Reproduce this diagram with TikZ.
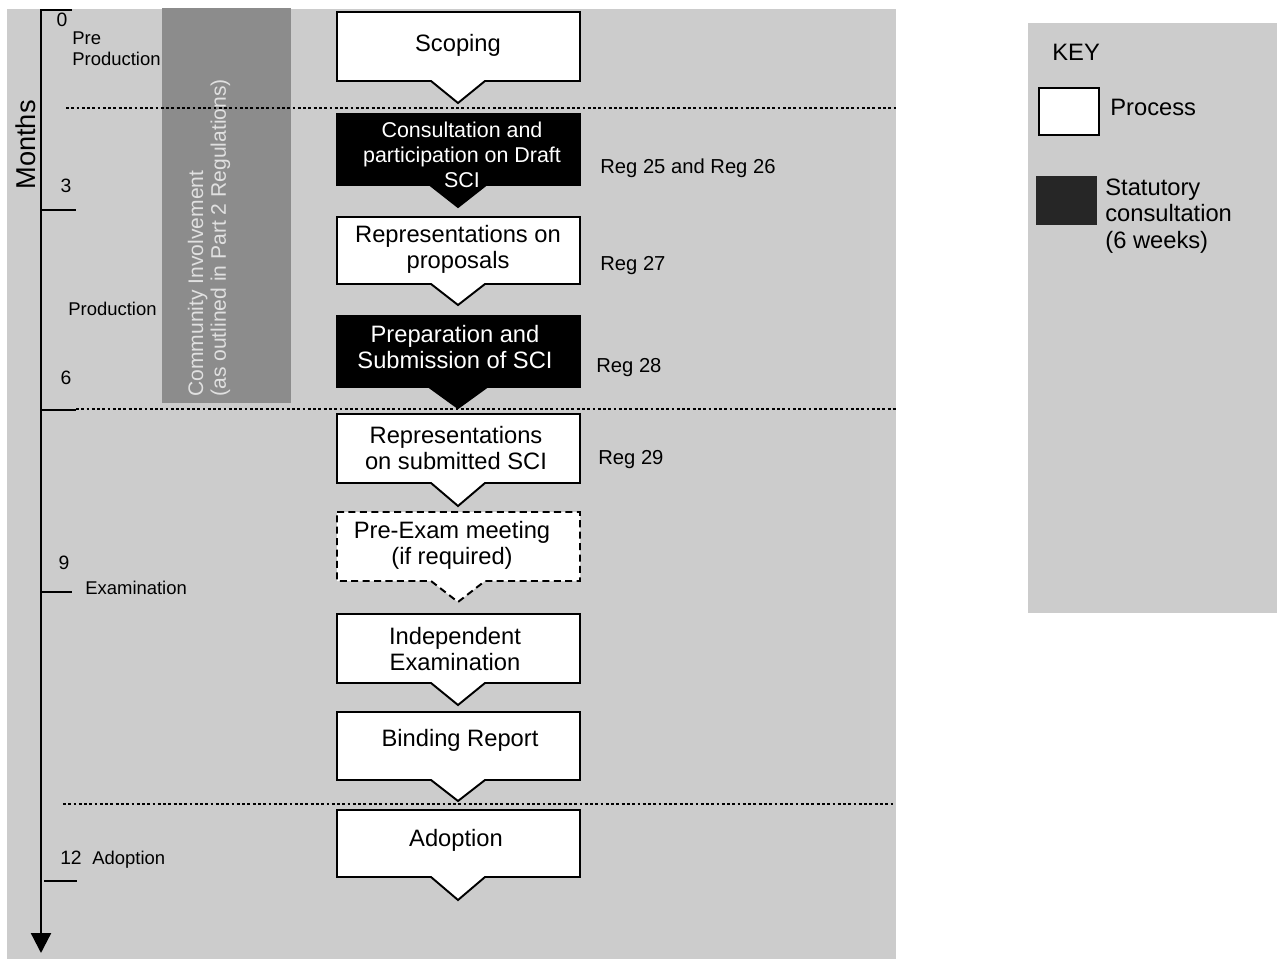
\documentclass[tikz,border=0pt]{standalone}
\usepackage{fontspec}
\setmainfont{Liberation Sans}
\usetikzlibrary{arrows.meta}

\tikzset{
  panel/.style={fill=black!20, draw=none},
  procbox/.style={draw=black, fill=white, line width=1.1pt},
  statbox/.style={draw=black, fill=black, line width=1.1pt},
  optbox/.style={procbox, dash pattern=on 4pt off 2.5pt},
  boxtext/.style={align=center, inner sep=0pt, font=\fontsize{13.5}{14.8}\selectfont},
  stattext/.style={boxtext, text=white},
  reglabel/.style={anchor=west, inner sep=0pt, font=\fontsize{11.5}{13}\selectfont},
  phaselabel/.style={anchor=west, inner sep=0pt, align=left, font=\fontsize{10.5}{12}\selectfont},
  monthnum/.style={inner sep=0pt, font=\fontsize{11}{13}\selectfont},
  phaseline/.style={line width=1.6pt, dash pattern=on 1.6pt off 1.4pt},
  keytext/.style={anchor=west, inner sep=0pt, align=left, font=\fontsize{13.5}{15}\selectfont}
}

\begin{document}
\begin{tikzpicture}[x=0.02cm, y=-0.02cm]
    \useasboundingbox (0,0) rectangle (1277,959);

    % Background panels
    \fill[panel] (7,9) rectangle (896,959);
    \fill[panel] (1028,23) rectangle (1277,613);

    % Community involvement bar
    \fill[black!45] (162,8) rectangle (291,403);
    \node[rotate=90, anchor=west, align=left, inner sep=0pt, text=black!12,
          font=\fontsize{12}{13}\selectfont] (community) at (209,397)
          {Community Involvement\\(as outlined in Part 2 Regulations)};

    % Time axis
    \coordinate (axistop) at (41,10);
    \coordinate (axisend) at (41,953);
    \draw[line width=1.3pt, -{Triangle[length=4mm, width=4mm]}]
        (72,10) -- (axistop) -- (axisend);
    \draw[line width=1.2pt] (41,210) -- (76,210);
    \draw[line width=1.2pt] (41,410) -- (76,410);
    \draw[line width=1.2pt] (41,592) -- (72,592);
    \draw[line width=1.2pt] (44,881) -- (77,881);
    \node[rotate=90, inner sep=0pt, font=\fontsize{15.5}{17}\selectfont] (months) at (26,145) {Months};

    % Month numbers and phases
    \node[monthnum] (m0) at (62,20) {0};
    \node[monthnum] (m3) at (66,186) {3};
    \node[monthnum] (m6) at (66,378) {6};
    \node[monthnum] (m9) at (64,563) {9};
    \node[monthnum] (m12) at (71,858) {12};
    \node[phaselabel] (preprod) at (72,49) {Pre\\Production};
    \node[phaselabel] (prod) at (68,309) {Production};
    \node[phaselabel] (exam) at (85,588) {Examination};
    \node[phaselabel] (adopt) at (92,860) {Adoption};

    % Phase boundaries
    \draw[phaseline] (66,108) -- (896,108);
    \draw[phaseline] (76,409) -- (896,409);
    \draw[phaseline] (63,804) -- (893,804);

    % Process steps
    \draw[procbox] (337,12) -- (580,12) -- (580,81) -- (485,81) -- (458,103) -- (431,81) -- (337,81) -- cycle;
    \node[boxtext] (scoping) at (458,45) {Scoping};

    \draw[statbox] (337,114) -- (580,114) -- (580,185) -- (486,185) -- (458,207) -- (430,185) -- (337,185) -- cycle;
    \node[stattext, font=\fontsize{12.2}{14.2}\selectfont] (consult) at (462,155) {Consultation and\\participation on Draft\\SCI};

    \draw[procbox] (337,217) -- (580,217) -- (580,284) -- (485,284) -- (458,305) -- (431,284) -- (337,284) -- cycle;
    \node[boxtext] (repprop) at (458,249) {Representations on\\proposals};

    \draw[statbox] (337,316) -- (580,316) -- (580,387) -- (487,387) -- (458,408) -- (429,387) -- (337,387) -- cycle;
    \node[stattext] (prepare) at (455,347) {Preparation and\\Submission of SCI};

    \draw[procbox] (337,414) -- (580,414) -- (580,483) -- (485,483) -- (458,506) -- (431,483) -- (337,483) -- cycle;
    \node[boxtext] (repsub) at (456,448) {Representations\\on submitted SCI};

    \draw[optbox] (337,512) -- (580,512) -- (580,581) -- (485,581) -- (458,602) -- (431,581) -- (337,581) -- cycle;
    \node[boxtext] (preexam) at (452,545) {Pre-Exam meeting\\(if required)};

    \draw[procbox] (337,614) -- (580,614) -- (580,683) -- (485,683) -- (458,705) -- (431,683) -- (337,683) -- cycle;
    \node[boxtext] (indep) at (455,649) {Independent\\Examination};

    \draw[procbox] (337,712) -- (580,712) -- (580,780) -- (485,780) -- (458,801) -- (431,780) -- (337,780) -- cycle;
    \node[boxtext] (binding) at (460,740) {Binding Report};

    \draw[procbox] (337,810) -- (580,810) -- (580,877) -- (485,877) -- (458,900) -- (431,877) -- (337,877) -- cycle;
    \node[boxtext] (adoption) at (456,840) {Adoption};

    % Regulation labels
    \node[reglabel] (reg2526) at (600,168) {Reg 25 and Reg 26};
    \node[reglabel] (reg27) at (600,266) {Reg 27};
    \node[reglabel] (reg28) at (596,368) {Reg 28};
    \node[reglabel] (reg29) at (598,460) {Reg 29};

    % Key
    \node[keytext] (key) at (1052,52) {KEY};
    \draw[procbox] (1039,88) rectangle (1099,135);
    \node[keytext] (keyproc) at (1110,107) {Process};
    \fill[black!85] (1036,176) rectangle (1097,225);
    \node[keytext, font=\fontsize{13.5}{15.2}\selectfont] (keystat) at (1105,216) {Statutory\\consultation\\(6 weeks)};
\end{tikzpicture}
\end{document}
